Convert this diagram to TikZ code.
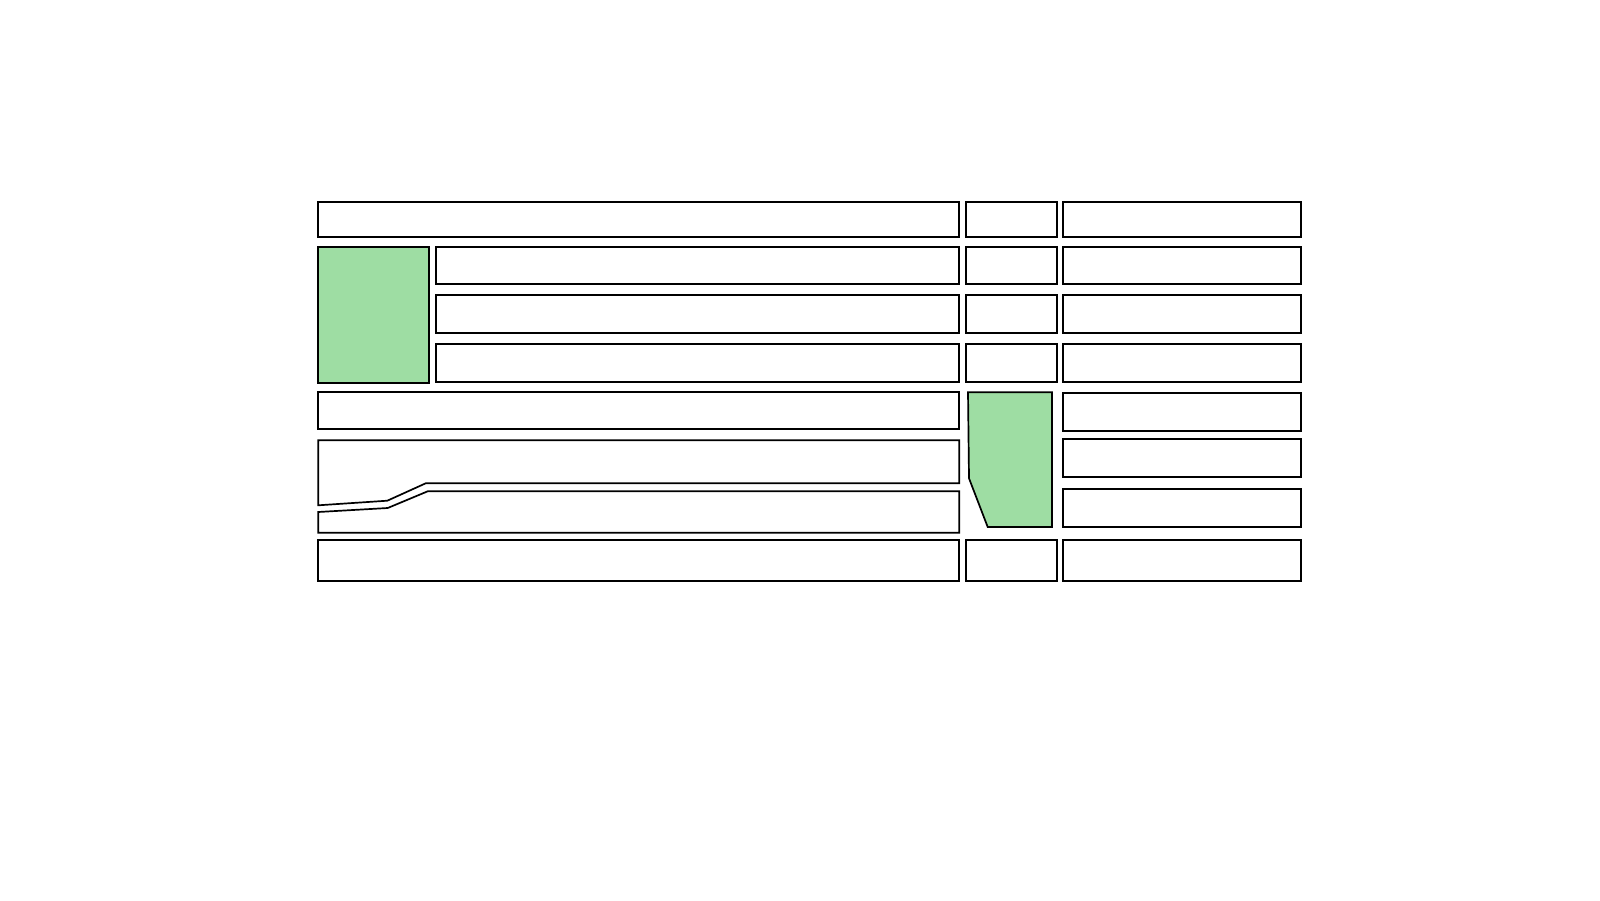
\documentclass[tikz,border=0pt]{standalone}
\definecolor{plotgreen}{RGB}{158,221,163}
\begin{document}
\begin{tikzpicture}[x=1pt,y=-1pt,
  plot/.style={draw=black,line width=1.7pt,line join=miter,fill=white},
  greenplot/.style={plot,fill=plotgreen}]
\useasboundingbox (0,0) rectangle (1600,900);
% row 1
\draw[plot] (318.3,201.7) rectangle (959.3,237);
\draw[plot] (966.3,201.7) rectangle (1057.3,237);
\draw[plot] (1062.7,201.7) rectangle (1301,237);
% green block left
\draw[greenplot] (318.3,246.7) rectangle (429,382.7);
% rows 2-4
\draw[plot] (435.7,247.3) rectangle (959.3,284.3);
\draw[plot] (966.3,247.3) rectangle (1057.3,284.3);
\draw[plot] (1062.7,247.3) rectangle (1301,284.3);
\draw[plot] (435.7,295) rectangle (959.3,332.7);
\draw[plot] (966.3,295) rectangle (1057.3,332.7);
\draw[plot] (1062.7,295) rectangle (1301,332.7);
\draw[plot] (435.7,344.3) rectangle (959.3,382.3);
\draw[plot] (966.3,344.3) rectangle (1057.3,382.3);
\draw[plot] (1062.7,344.3) rectangle (1301,382.3);
% row 5
\draw[plot] (318.3,391.7) rectangle (959.3,429.3);
% kinked plots
\draw[plot] (318.3,440.3) -- (959.3,440.3) -- (959.3,483.3) -- (425.7,483.3)
  -- (387.3,500.7) -- (318.3,505.3) -- cycle;
\draw[plot] (318.3,512) -- (387.7,508) -- (427.7,491.3) -- (959.3,491.3)
  -- (959.3,532.7) -- (318.3,532.7) -- cycle;
% green polygon middle
\draw[greenplot] (968,392.3) -- (1052,392.3) -- (1052,527) -- (987.7,527)
  -- (969,478.3) -- cycle;
% right column rows 5-7
\draw[plot] (1062.7,392.7) rectangle (1301,431.3);
\draw[plot] (1062.7,439.3) rectangle (1301,477.3);
\draw[plot] (1062.7,489) rectangle (1301,527.3);
% row 8
\draw[plot] (318.3,539.7) rectangle (959.3,581.3);
\draw[plot] (966.3,539.7) rectangle (1057.3,581.3);
\draw[plot] (1062.7,539.7) rectangle (1301,581.3);
\end{tikzpicture}
\end{document}
